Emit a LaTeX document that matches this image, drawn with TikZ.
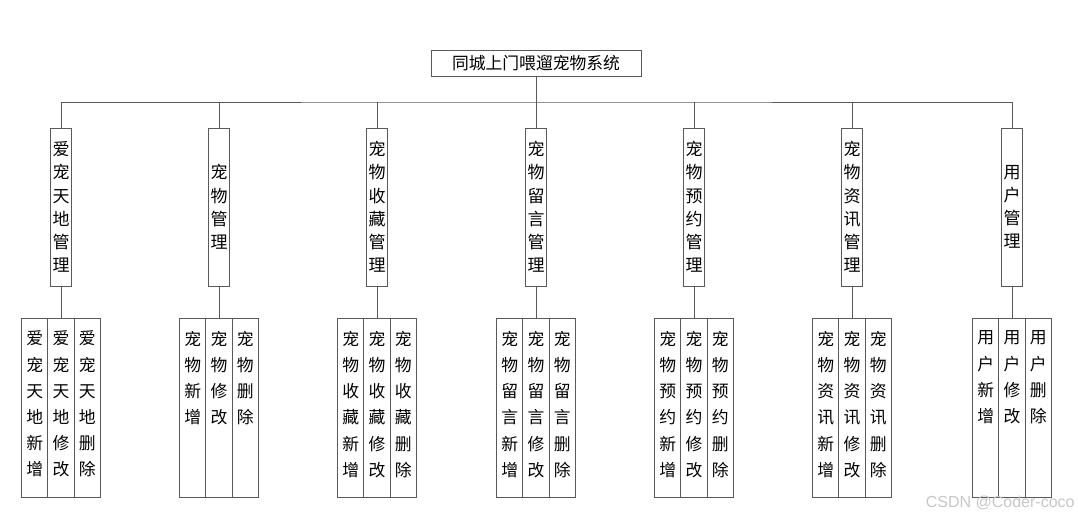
\documentclass[tikz,border=0pt]{standalone}
\usepackage{fontspec}
\newfontfamily\cjk{Noto Sans CJK SC}
\setmainfont{Liberation Sans}
\begin{document}
\begin{tikzpicture}[x=1pt,y=-1pt,
  line width=0.8pt,
  lc/.style={draw=black!65},
  rootbox/.style={lc, fill=white, minimum width=210pt, minimum height=26pt, inner sep=0pt, font=\cjk\fontsize{16.8}{20}\selectfont},
  midbox/.style={lc, fill=white, minimum width=21.5pt, minimum height=158pt, inner sep=0pt, align=center, font=\cjk\fontsize{17}{23.2}\selectfont},
  leafbox/.style={lc, minimum width=26.3pt, minimum height=179pt, inner sep=0pt},
  leaftext/.style={anchor=north, inner sep=0pt, align=center, font=\cjk\fontsize{16.8}{26.2}\selectfont},
]
\useasboundingbox (0,0) rectangle (1078,518);
\node[rootbox] (root) at (536,63) {同城上门喂遛宠物系统};
\coordinate (hb) at (536,102);

\def\leafgroup#1#2#3#4#5{%
  \node[leafbox] (#1a) at (#2-26.3,407.5) {};
  \node[leafbox] (#1b) at (#2,407.5) {};
  \node[leafbox] (#1c) at (#2+26.3,407.5) {};
  \node[leaftext] (#1at) at ([yshift=-13pt]#1a.north) {#3};
  \node[leaftext] (#1bt) at ([yshift=-13pt]#1b.north) {#4};
  \node[leaftext] (#1ct) at ([yshift=-13pt]#1c.north) {#5};
}

\foreach \n/\x/\t in {m1/61/爱\\宠\\天\\地\\管\\理, m2/219/宠\\物\\管\\理, m3/377/宠\\物\\收\\藏\\管\\理, m4/536/宠\\物\\留\\言\\管\\理, m5/694/宠\\物\\预\\约\\管\\理, m6/852/宠\\物\\资\\讯\\管\\理, m7/1012/用\\户\\管\\理}{
  \node[midbox] (\n) at (\x,207) {\t};
}

\leafgroup{g1}{61}{爱\\宠\\天\\地\\新\\增}{爱\\宠\\天\\地\\修\\改}{爱\\宠\\天\\地\\删\\除}
\leafgroup{g2}{219}{宠\\物\\新\\增}{宠\\物\\修\\改}{宠\\物\\删\\除}
\leafgroup{g3}{377}{宠\\物\\收\\藏\\新\\增}{宠\\物\\收\\藏\\修\\改}{宠\\物\\收\\藏\\删\\除}
\leafgroup{g4}{536}{宠\\物\\留\\言\\新\\增}{宠\\物\\留\\言\\修\\改}{宠\\物\\留\\言\\删\\除}
\leafgroup{g5}{694}{宠\\物\\预\\约\\新\\增}{宠\\物\\预\\约\\修\\改}{宠\\物\\预\\约\\删\\除}
\leafgroup{g6}{852}{宠\\物\\资\\讯\\新\\增}{宠\\物\\资\\讯\\修\\改}{宠\\物\\资\\讯\\删\\除}
\leafgroup{g7}{1012}{用\\户\\新\\增}{用\\户\\修\\改}{用\\户\\删\\除}

\draw[lc] (root.south) -- (hb);
\draw[lc] (m1.north) |- (hb) -| (m7.north);
\foreach \i in {2,...,6}{
  \draw[lc] (m\i.north) -- (m\i.north |- hb);
}
\foreach \i in {1,...,7}{
  \draw[lc] (m\i.south) -- (g\i b.north);
}
\node[anchor=base east, inner sep=0pt, text=black!22, font=\fontsize{16}{18}\selectfont] (wm) at (1075,507) {CSDN @Coder-coco};
\end{tikzpicture}
\end{document}
